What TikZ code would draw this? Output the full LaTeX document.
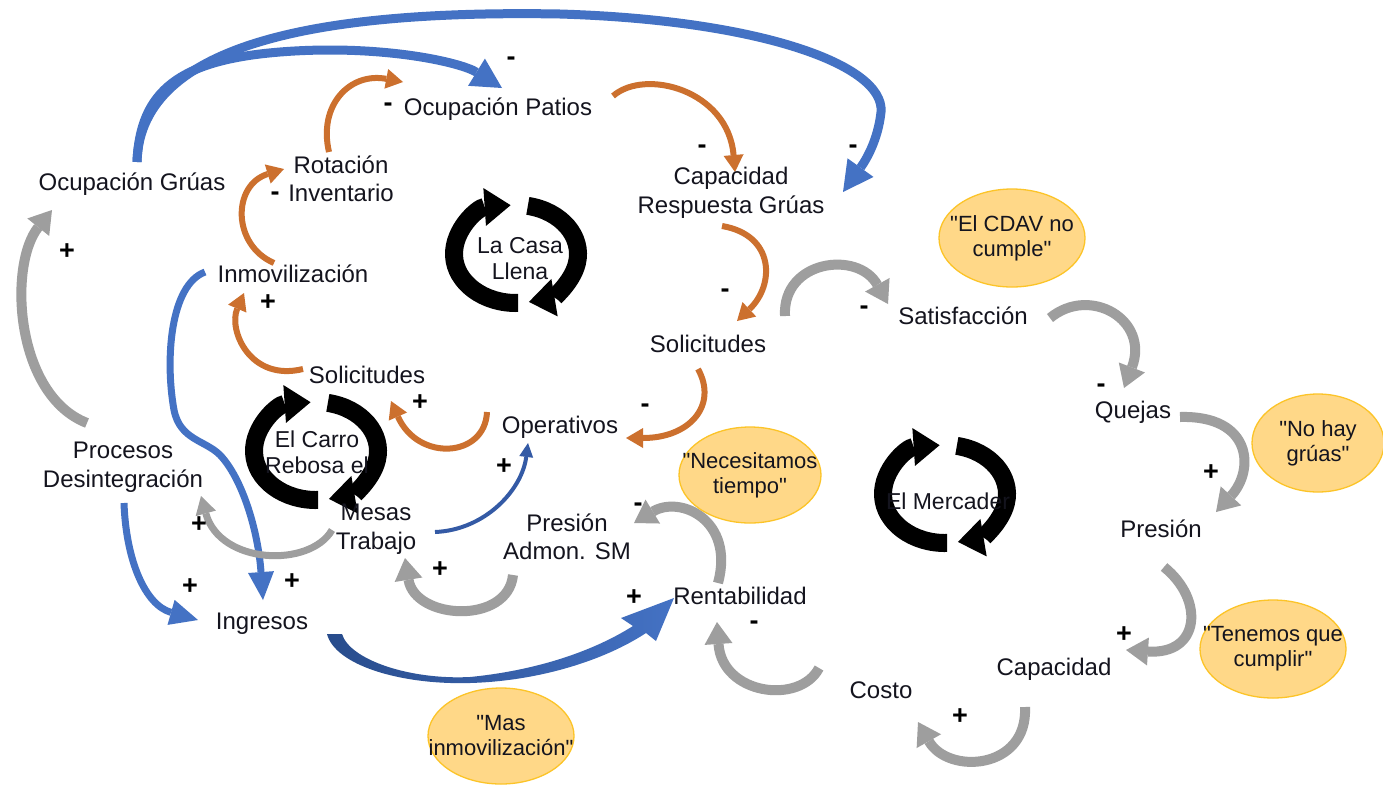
\documentclass[tikz,border=0pt]{standalone}
\usepackage{fontspec}
\setmainfont{Liberation Sans}
\usetikzlibrary{arrows.meta,shapes.geometric}
\definecolor{lblue}{RGB}{68,114,196}
\definecolor{dblue}{RGB}{52,90,165}
\definecolor{deepblue}{RGB}{40,76,140}
\definecolor{rust}{RGB}{204,112,46}
\definecolor{ash}{RGB}{158,158,158}
\definecolor{ink}{RGB}{20,20,30}
\definecolor{bubble}{RGB}{255,216,136}
\definecolor{bubbleedge}{RGB}{252,196,40}
\begin{document}
\begin{tikzpicture}[x=1pt,y=-1pt,
  varbl/.style={font=\fontsize{24}{28.5}\selectfont, align=center, inner sep=0pt, text=ink},
  polarity/.style={font=\fontsize{27}{27}\selectfont\bfseries, inner sep=0pt, text=black},
  bubblenote/.style={ellipse, draw=bubbleedge, line width=1.3pt, fill=bubble,
    inner xsep=-40pt, inner ysep=-25pt,
    minimum width=146pt, minimum height=98pt, font=\fontsize{22}{25}\selectfont, align=center, text=ink},
  cyclbl/.style={font=\fontsize{23}{26}\selectfont, align=center, inner sep=0pt, text=ink},
  grayarr/.style={draw=ash, line width=10pt, -{Triangle[width=28pt,length=22pt,line width=0pt]}},
  grayslim/.style={draw=ash, line width=7pt, -{Triangle[width=21pt,length=18pt,line width=0pt]}},
  rustarr/.style={draw=rust, line width=6pt, -{Triangle[width=20pt,length=17pt,line width=0pt]}},
  bluearr/.style={draw=lblue, line width=9pt, -{Triangle[width=32pt,length=30pt,line width=0pt]}},
  bluemid/.style={draw=lblue, line width=7pt, -{Triangle[width=26pt,length=28pt,line width=0pt]}},
  thinblue/.style={draw=dblue, line width=4pt, -{Triangle[width=14pt,length=14pt,line width=0pt]}},
  cycarr/.style={draw=black, line width=18pt, -{Triangle[width=38pt,length=26pt,line width=0pt]}},
  cyc/.pic={
    \draw[cycarr] (88:62 and 49) arc[start angle=88,end angle=265,x radius=62,y radius=49];
    \draw[cycarr] (281:62 and 49) arc[start angle=281,end angle=438,x radius=62,y radius=49];
  }
]
\fill[white] (0,0) rectangle (1383,785);
\useasboundingbox (0,0) rectangle (1383,785);

% end points of the causal links
\coordinate (ogTop) at (137,162);
\coordinate (crgIn) at (843,192);
\coordinate (opIn) at (502,88);
\coordinate (riTop) at (329,152);
\coordinate (opLeft) at (403,82);
\coordinate (inmUp) at (274,263);
\coordinate (riLeft) at (284,169);
\coordinate (solLeft) at (303,369);
\coordinate (inmDown) at (244,293);
\coordinate (opRight) at (613,96);
\coordinate (crgTop) at (735,172);
\coordinate (crgBot) at (722,226);
\coordinate (sol2Top) at (737,321);
\coordinate (sol2Bot) at (698,369);
\coordinate (opeRight) at (626,438);
\coordinate (opeLeft) at (487,412);
\coordinate (sol1Right) at (391,401);
\coordinate (pdTop) at (87,423);
\coordinate (ogLeft) at (52,210);
\coordinate (mesLeft) at (332,530);
\coordinate (pdRight) at (201,496);
\coordinate (pasBot) at (513,575);
\coordinate (mesBot) at (405,558);
\coordinate (renTop) at (718,583);
\coordinate (pasRight) at (634,523);
\coordinate (cosLeft) at (819,668);
\coordinate (renBot) at (717,622);
\coordinate (capBot) at (1025,707);
\coordinate (cosBot) at (918,722);
\coordinate (preBot) at (1164,567);
\coordinate (capRight) at (1126,650);
\coordinate (queRight) at (1180,417);
\coordinate (preTop) at (1216,512);
\coordinate (satRight) at (1050,318);
\coordinate (queTop) at (1124,388);
\coordinate (sol2Right) at (785,316);
\coordinate (satLeft) at (888,304);
\coordinate (inmLeft) at (205,272);
\coordinate (ingTop) at (263,600);
\coordinate (pdBot) at (124,503);
\coordinate (ingLeft) at (198,620);
\coordinate (mesRight) at (435,532);
\coordinate (opeBot) at (528,443);
\coordinate (ingRight) at (334,634);
\coordinate (renLeft) at (674,598);

% blue links
\draw[bluearr] (ogTop) .. controls (140,40) and (330,10) .. (560,14)
  .. controls (760,20) and (885,65) .. (881,112)
  .. controls (878,140) and (866,160) .. (crgIn);
\draw[bluearr] (ogTop) .. controls (140,90) and (180,60) .. (280,52)
  .. controls (380,44) and (460,62) .. (opIn);
\draw[bluemid] (inmLeft) .. controls (170,285) and (165,360) .. (174,410)
  .. controls (180,440) and (205,440) .. (220,455)
  .. controls (242,478) and (258,530) .. (ingTop);
\draw[bluemid] (pdBot) .. controls (126,560) and (145,605) .. (ingLeft);
\draw[thinblue] (mesRight) .. controls (485,530) and (522,490) .. (opeBot);
% tapered link from Ingresos to Rentabilidad
\shade[left color=deepblue, right color=lblue]
  ([xshift=-7pt]ingRight) .. controls (335,665) and (400,685) .. (470,683)
  .. controls (540,681) and (605,660) .. (646,633) -- (656,641) -- (renLeft)
  -- (621,618) -- (633,626) .. controls (595,650) and (540,670) .. (470,677)
  .. controls (410,680) and (350,660) .. ([xshift=8pt]ingRight) -- cycle;

% orange links
\draw[rustarr] (riTop) .. controls (318,105) and (350,72) .. (opLeft);
\draw[rustarr] (inmUp) .. controls (232,245) and (232,185) .. (riLeft);
\draw[rustarr] (solLeft) .. controls (250,382) and (228,330) .. (inmDown);
\draw[rustarr] (opRight) .. controls (645,68) and (728,90) .. (crgTop);
\draw[rustarr] (crgBot) .. controls (775,235) and (775,285) .. (sol2Top);
\draw[rustarr] (sol2Bot) .. controls (718,405) and (690,438) .. (opeRight);
\draw[rustarr] (opeLeft) .. controls (485,458) and (418,462) .. (sol1Right);

% grey links
\draw[grayarr] (pdTop) .. controls (15,395) and (8,265) .. (ogLeft);
\draw[grayslim] (mesLeft) .. controls (310,568) and (220,565) .. (pdRight);
\draw[grayarr] (pasBot) .. controls (508,625) and (415,620) .. (mesBot);
\draw[grayarr] (renTop) .. controls (735,520) and (680,495) .. (pasRight);
\draw[grayarr] (cosLeft) .. controls (800,705) and (722,695) .. (renBot);
\draw[grayarr] (capBot) .. controls (1028,770) and (948,775) .. (cosBot);
\draw[grayarr] (preBot) .. controls (1205,600) and (1200,655) .. (capRight);
\draw[grayarr] (queRight) .. controls (1252,415) and (1255,470) .. (preTop);
\draw[grayarr] (satRight) .. controls (1090,285) and (1150,320) .. (queTop);
\draw[grayarr] (sol2Right) .. controls (782,260) and (858,250) .. (satLeft);

% loop markers
\pic at (516,254) {cyc};
\pic at (316,451) {cyc};
\pic at (945,494) {cyc};

% variables
\node[varbl] (og) at (132,184) {Ocupación Grúas};
\node[varbl] (op) at (498,109) {Ocupación Patios};
\node[varbl] (ri) at (341,179) {Rotación\\Inventario};
\node[varbl] (crg) at (731,193) {Capacidad\\Respuesta Grúas};
\node[varbl] (inm) at (293,274) {Inmovilización};
\node[varbl] (sol1) at (367,375) {Solicitudes};
\node[varbl] (sol2) at (708,344) {Solicitudes};
\node[varbl] (sat) at (963,316) {Satisfacción};
\node[varbl] (que) at (1133,412) {Quejas};
\node[varbl] (pre) at (1161,529) {Presión};
\node[varbl] (cap) at (1054,669) {Capacidad};
\node[varbl] (cos) at (881,690) {Costo};
\node[varbl] (ren) at (740,596) {Rentabilidad};
\node[varbl] (pas) at (567,537) {Presión\\Admon. SM};
\node[varbl] (ope) at (560,427) {Operativos};
\node[varbl] (mes) at (376,529) {Mesas\\Trabajo};
\node[varbl] (pd) at (123,467) {Procesos\\Desintegración};
\node[varbl] (ing) at (262,624) {Ingresos};

% loop names
\node[cyclbl] (casa) at (520,259) {La Casa\\Llena};
\node[cyclbl] (carro) at (317,452) {El Carro\\Rebosa el};
\node[cyclbl] (merc) at (948,501) {El Mercader};

% quotes
\node[bubblenote] (q1) at (1012,238) {\textquotedbl El CDAV no\\cumple\textquotedbl};
\node[bubblenote, minimum width=132pt] (q2) at (1318,443) {\textquotedbl No hay\\grúas\textquotedbl};
\node[bubblenote] (q3) at (1273,649) {\textquotedbl Tenemos que\\cumplir\textquotedbl};
\node[bubblenote, minimum width=142pt, minimum height=96pt] (q4) at (750,475) {\textquotedbl Necesitamos\\tiempo\textquotedbl};
\node[bubblenote, minimum height=96pt] (q5) at (501,736) {\textquotedbl Mas\\inmovilización\textquotedbl};

% link polarities
\node[polarity] at (388,107) {-};
\node[polarity] at (511,61) {-};
\node[polarity] at (275,196) {-};
\node[polarity] at (702,149) {-};
\node[polarity] at (853,149) {-};
\node[polarity] at (725,293) {-};
\node[polarity] at (864,310) {-};
\node[polarity] at (1101,388) {-};
\node[polarity] at (645,408) {-};
\node[polarity] at (638,507) {-};
\node[polarity] at (754,625) {-};
\node[polarity] at (67,252) {+};
\node[polarity] at (268,303) {+};
\node[polarity] at (420,403) {+};
\node[polarity] at (504,467) {+};
\node[polarity] at (199,525) {+};
\node[polarity] at (190,587) {+};
\node[polarity] at (292,582) {+};
\node[polarity] at (440,570) {+};
\node[polarity] at (634,598) {+};
\node[polarity] at (1211,473) {+};
\node[polarity] at (1124,635) {+};
\node[polarity] at (960,717) {+};
\end{tikzpicture}
\end{document}
